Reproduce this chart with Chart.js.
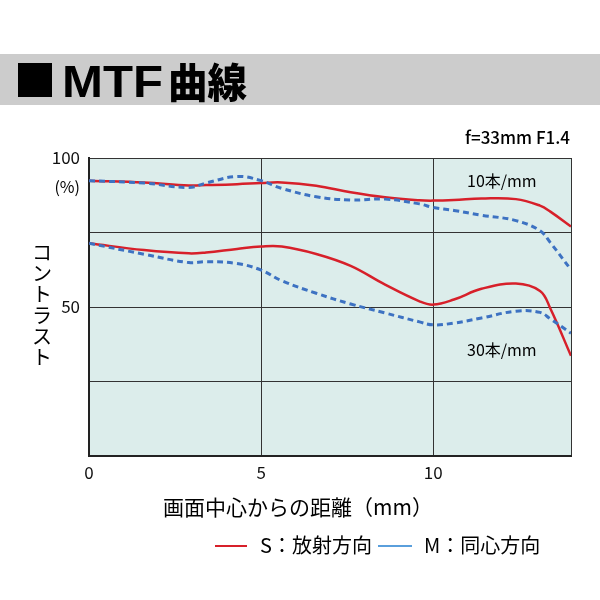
<!DOCTYPE html>
<html>
<head>
<meta charset="utf-8">
<script src="https://cdn.jsdelivr.net/npm/chart.js@4"></script>
<style>
  html, body { margin: 0; padding: 0; background: #fff; }
  #wrap { width: 600px; height: 600px; }
</style>
</head>
<body>
<div id="wrap"><canvas id="mtf-chart" width="600" height="600"></canvas></div>
<script>
// distance from image center (mm)
var positions = [0, 1.6, 2.9, 3.4, 4.3, 5.0, 5.6, 6.6, 7.6, 8.6, 9.6, 10.0, 10.6, 11.4, 12.4, 13.1, 13.4, 14];

// contrast (%)
var s10 = [92.4, 91.8, 90.8, 90.9, 91.2, 91.6, 91.8, 90.7, 88.5, 86.8, 85.8, 85.7, 85.9, 86.4, 86.2, 84.0, 82.0, 77.0];
var m10 = [92.4, 91.6, 90.1, 91.6, 93.8, 92.4, 89.8, 87.0, 85.9, 86.2, 84.6, 83.4, 82.4, 80.8, 79.0, 75.6, 71.6, 62.5];
var s30 = [71.4, 69.1, 68.0, 68.3, 69.5, 70.3, 70.3, 67.8, 63.8, 57.5, 51.9, 50.8, 52.5, 56.1, 57.9, 55.4, 49.5, 33.6];
var m30 = [71.4, 67.7, 64.9, 65.2, 64.6, 62.4, 58.8, 54.6, 51.0, 48.0, 45.0, 44.0, 44.6, 46.3, 48.6, 48.2, 46.0, 41.2];

var xTicks = [0, 5, 10];
var yTicks = [100, 50];
var seriesLabels = ["S：放射方向", "M：同心方向"];
var freqLabels = ["10本/mm", "30本/mm"];

var red = "#d7202a";
var blue = "#3d72c2";
var legendBlue = "#5a9fdc";
var jp = '"Noto Sans CJK JP", "Noto Sans", sans-serif';

function toPoints(ys) {
  return positions.map(function (x, i) { return { x: x, y: ys[i] }; });
}

var lineBase = { fill: false, pointRadius: 0, tension: 0.4 };

var datasets = [
  Object.assign({ label: seriesLabels[1], data: toPoints(m10), borderColor: blue, borderWidth: 3, borderDash: [6, 4] }, lineBase),
  Object.assign({ label: seriesLabels[1], data: toPoints(m30), borderColor: blue, borderWidth: 3, borderDash: [6, 4] }, lineBase),
  Object.assign({ label: seriesLabels[0], data: toPoints(s10), borderColor: red, borderWidth: 2.5 }, lineBase),
  Object.assign({ label: seriesLabels[0], data: toPoints(s30), borderColor: red, borderWidth: 2.5 }, lineBase),
];

// fit a string into a given width by squeezing/stretching horizontally
function fitText(ctx, text, x, y, width) {
  var w = ctx.measureText(text).width;
  ctx.save();
  ctx.translate(x, y);
  ctx.scale(width / w, 1);
  ctx.fillText(text, 0, 0);
  ctx.restore();
}

// plot background + all the extra text around the chart
var decorPlugin = {
  id: "decor",
  beforeDraw: function (chart) {
    var ctx = chart.ctx;
    var a = chart.chartArea;
    ctx.save();
    ctx.fillStyle = "#dcedeb";
    ctx.fillRect(a.left, a.top, a.right - a.left, a.bottom - a.top);
    ctx.restore();
  },
  afterDraw: function (chart) {
    var ctx = chart.ctx;
    var yScale = chart.scales.y;
    ctx.save();

    // title bar
    ctx.fillStyle = "#cccccc";
    ctx.fillRect(0, 54, 600, 51);
    ctx.fillStyle = "#000";
    ctx.fillRect(18, 63, 34, 34);
    ctx.textBaseline = "alphabetic";
    ctx.textAlign = "left";
    ctx.font = "bold 45px 'Liberation Sans', " + jp;
    fitText(ctx, "MTF", 62, 97, 101);
    ctx.font = "900 41px " + jp;
    fitText(ctx, "曲線", 168, 98, 79);

    // lens spec
    ctx.font = "500 17px " + jp;
    ctx.textAlign = "right";
    ctx.textBaseline = "middle";
    ctx.fillText("f=33mm F1.4", 570, 138);

    // (%) under 100
    ctx.font = "16px " + jp;
    ctx.fillText("(%)", 80, yScale.getPixelForValue(100) + 29);

    // y axis title, stacked upright
    var yt = "コントラスト";
    ctx.font = "20px " + jp;
    ctx.textAlign = "center";
    for (var i = 0; i < yt.length; i++) {
      ctx.fillText(yt[i], 42, 252 + i * 21);
    }

    // frequency labels
    ctx.font = "16px " + jp;
    ctx.textAlign = "left";
    ctx.fillText(freqLabels[0], 467, 181);
    ctx.fillText(freqLabels[1], 467, 350);

    // x axis title
    ctx.font = "21px " + jp;
    ctx.textAlign = "center";
    ctx.fillText("画面中心からの距離（mm）", 298, 507);

    // legend
    ctx.lineWidth = 2;
    ctx.strokeStyle = red;
    ctx.beginPath(); ctx.moveTo(215, 546); ctx.lineTo(247, 546); ctx.stroke();
    ctx.strokeStyle = legendBlue;
    ctx.beginPath(); ctx.moveTo(378, 546); ctx.lineTo(412, 546); ctx.stroke();
    ctx.font = "20px " + jp;
    ctx.textAlign = "left";
    ctx.fillStyle = "#000";
    ctx.fillText(seriesLabels[0], 260, 545);
    ctx.fillText(seriesLabels[1], 424, 545);

    ctx.restore();
  },
};

var config = {
  type: "line",
  data: { datasets: datasets },
  options: {
    responsive: false,
    animation: false,
    layout: { padding: { left: 0, top: 158, right: 29, bottom: 0 } },
    plugins: { legend: { display: false }, tooltip: { enabled: false } },
    scales: {
      x: {
        type: "linear",
        min: 0,
        max: 14,
        afterFit: function (scale) { scale.height = 144; },
        grid: { color: "#333", lineWidth: 1, drawTicks: false },
        border: { color: "#222", width: 2 },
        ticks: {
          stepSize: 5,
          padding: 6,
          color: "#111",
          font: { family: jp, size: 17 },
          maxRotation: 0,
          callback: function (v) { return xTicks.indexOf(v) >= 0 ? String(v) : ""; },
        },
      },
      y: {
        min: 0,
        max: 100,
        afterFit: function (scale) { scale.width = 89; },
        grid: { color: "#333", lineWidth: 1, drawTicks: false },
        border: { color: "#222", width: 2 },
        ticks: {
          stepSize: 25,
          padding: 9,
          color: "#111",
          font: { family: jp, size: 17 },
          callback: function (v) { return yTicks.indexOf(v) >= 0 ? String(v) : ""; },
        },
      },
    },
  },
  plugins: [decorPlugin],
};

const ctx = document.getElementById("mtf-chart").getContext("2d");
const mtfChart = new Chart(ctx, config);
</script>
</body>
</html>
